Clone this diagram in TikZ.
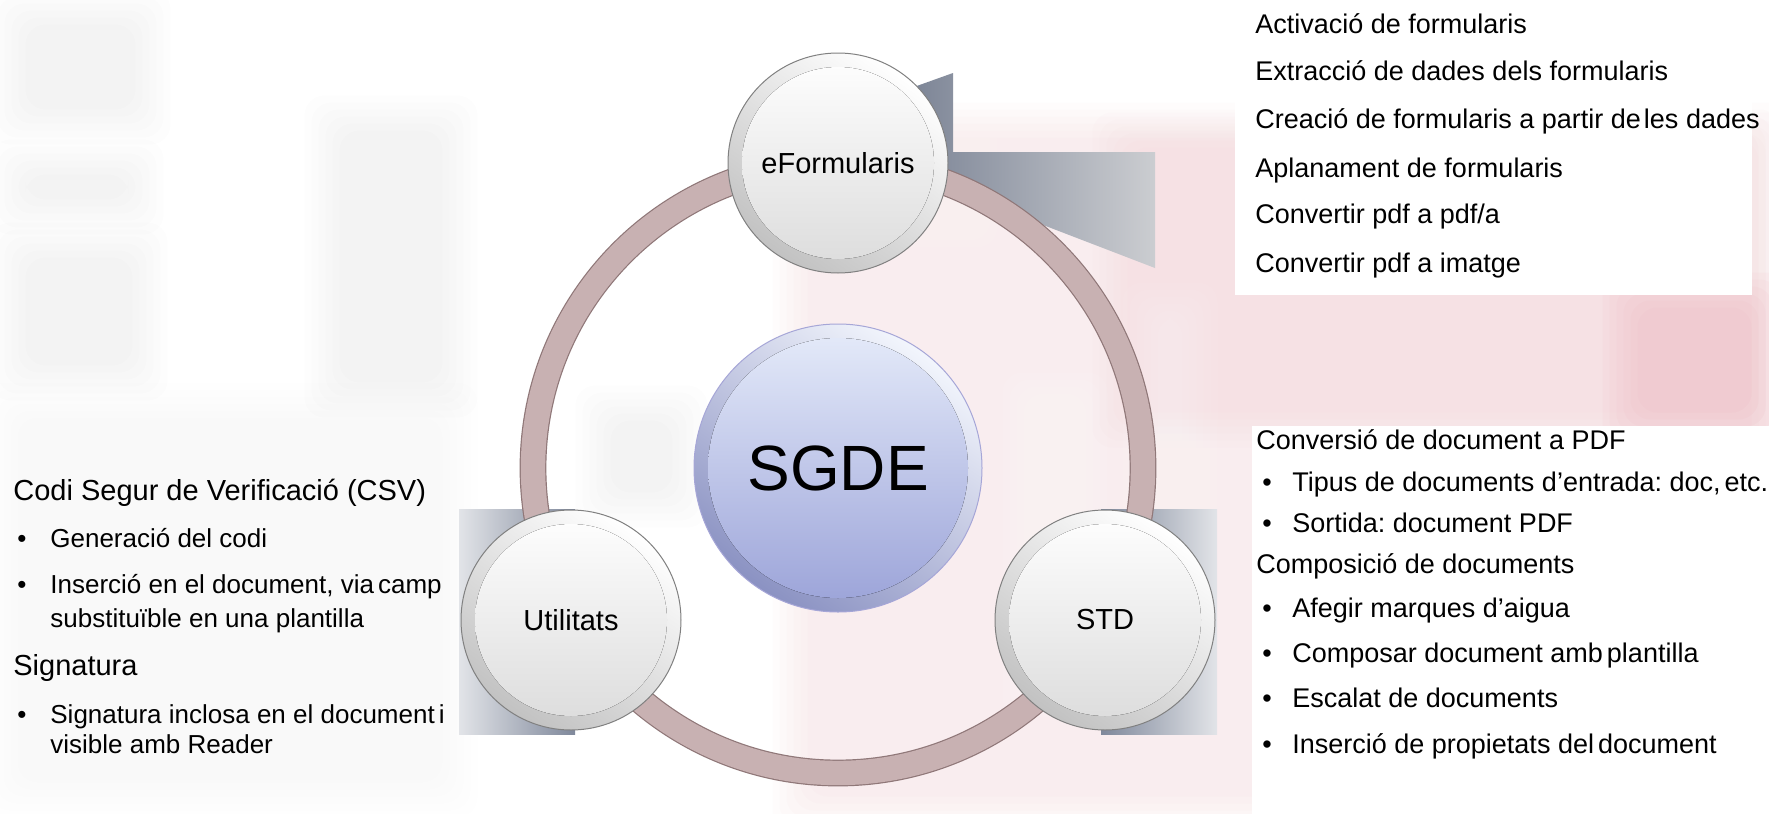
\documentclass[tikz,border=0pt]{standalone}
\usepackage{fontspec}
\setmainfont{Liberation Sans}
\definecolor{ringc}{HTML}{C8B1B2}
\definecolor{ringd}{HTML}{8F7778}
\definecolor{calldark}{HTML}{7F889B}
\definecolor{calllight}{HTML}{E2E4E8}
\definecolor{pinkw}{HTML}{F6CCD2}
\definecolor{pinks}{HTML}{EFB3BD}
\definecolor{sgdetop}{HTML}{E6ECFA}
\definecolor{sgdemid}{HTML}{CBD4F3}
\definecolor{sgdebot}{HTML}{9AA2D8}
% soft-edged rectangle made of nested translucent layers
\newcommand\softfill[6]{%
  \foreach \i in {0,...,5}{%
    \fill[#1,opacity=#6,rounded corners=10pt]
      ({#2+(\i-2.5)*7},{#3+(\i-2.5)*7}) rectangle ({#4-(\i-2.5)*7},{#5-(\i-2.5)*7});}}
\tikzset{
  ball/.style={circle, minimum size=110pt, inner sep=0pt, draw=black!50, line width=0.5pt,
    top color=white, bottom color=black!24, shading angle=-35,
    path picture={\fill[top color=white, bottom color=black!14]
      (path picture bounding box.center) circle[radius=48pt];},
    font=\fontsize{14.5}{17}\selectfont},
  hub/.style={circle, minimum size=144pt, inner sep=0pt, draw=black!45!blue!35, line width=0.5pt,
    top color=sgdetop!50!white, bottom color=sgdebot!90!black, shading angle=-35,
    path picture={\fill[top color=sgdetop, middle color=sgdemid, bottom color=sgdebot]
      (path picture bounding box.center) circle[radius=65pt];},
    font=\fontsize{32}{36}\selectfont},
  rtxt/.style={anchor=base west, inner sep=0pt, font=\frenchspacing\fontsize{13.5}{16}\selectfont},
  lhead/.style={anchor=base west, inner sep=0pt, font=\frenchspacing\fontsize{14.5}{17}\selectfont},
  ltxt/.style={anchor=base west, inner sep=0pt, font=\frenchspacing\fontsize{13}{16}\selectfont},
  textbox/.style={fill=white, draw=none},
  callout/.style={draw=none}
}
\begin{document}
\begin{tikzpicture}[x=0.5pt,y=-0.5pt]
\useasboundingbox (0,0) rectangle (1769,814);
\fill[white] (0,0) rectangle (1769,814);
% grey watermark (left)
\softfill{black}{8}{7}{153}{127}{0.007}
\softfill{black}{8}{157}{146}{217}{0.007}
\softfill{black}{8}{240}{150}{383}{0.007}
\softfill{black}{322}{113}{460}{400}{0.007}
\softfill{black}{0}{400}{460}{800}{0.005}
\softfill{black}{593}{403}{690}{510}{0.006}
% pink watermark (right)
\softfill{pinkw}{790}{120}{1769}{814}{0.06}
\softfill{pinkw}{1110}{130}{1769}{430}{0.05}
\softfill{pinks}{1620}{290}{1769}{430}{0.09}
\softfill{white}{1020}{390}{1090}{700}{0.07}
\softfill{white}{1140}{300}{1200}{520}{0.06}
\softfill{white}{790}{120}{980}{230}{0.06}
% white text boxes
\fill[textbox] (1235,0) rectangle (1752,295);
\fill[textbox] (1252,426) rectangle (1769,814);
% callouts
\shade[callout, left color=calllight, right color=calldark] (459,509) rectangle (575,734);
\shade[callout, left color=calldark, right color=calllight] (1101,509) rectangle (1217,734);
\shade[callout, left color=calldark!95!black, right color=calllight!90!black]
  (900,92) -- (953,73) -- (953,152) -- (1155,152) -- (1155,268) -- (900,170) -- cycle;
% ring
\coordinate (hubc) at (838,468);
\draw[ringd, line width=13.4pt] (hubc) circle[radius=305];
\draw[ringc, line width=12.2pt] (hubc) circle[radius=305];
% circles
\node[hub] (sgde) at (hubc) {SGDE};
\node[ball] (ef) at (838,163) {eFormularis};
\node[ball] (ut) at (571,620) {Utilitats};
\node[ball] (std) at (1105,620) {STD};
% top-right text
\node[rtxt] (a1) at (1255,33) {Activació de formularis};
\node[rtxt] (a2) at (1255,80) {Extracció de dades dels formularis};
\node[rtxt] (a3) at (1255,128) {Creació de formularis a partir de\hspace{1.5pt}les dades};
\node[rtxt] (a4) at (1255,177) {Aplanament de formularis};
\node[rtxt] (a5) at (1255,223) {Convertir pdf a pdf/a};
\node[rtxt] (a6) at (1255,272) {Convertir pdf a imatge};
% bottom-right text
\node[rtxt] (b1) at (1256,449) {Conversió de document a PDF};
\node[rtxt] (b2b) at (1262,491) {•};
\node[rtxt] (b2) at (1292,491) {Tipus de documents d’entrada: doc,\hspace{2pt}etc.};
\node[rtxt] (b3b) at (1262,532) {•};
\node[rtxt] (b3) at (1292,532) {Sortida: document PDF};
\node[rtxt] (b4) at (1256,573) {Composició de documents};
\node[rtxt] (b5b) at (1262,617) {•};
\node[rtxt] (b5) at (1292,617) {Afegir marques d’aigua};
\node[rtxt] (b6b) at (1262,662) {•};
\node[rtxt] (b6) at (1292,662) {Composar document amb\hspace{2pt}plantilla};
\node[rtxt] (b7b) at (1262,707) {•};
\node[rtxt] (b7) at (1292,707) {Escalat de documents};
\node[rtxt] (b8b) at (1262,753) {•};
\node[rtxt] (b8) at (1292,753) {Inserció de propietats del\hspace{2pt}document};
% left text
\node[lhead] (c1) at (13,500) {Codi Segur de Verificació (CSV)};
\node[ltxt] (c2b) at (17,547) {•};
\node[ltxt] (c2) at (50,547) {Generació del codi};
\node[ltxt] (c3b) at (17,593) {•};
\node[ltxt] (c3) at (50,593) {Inserció en el document, via\hspace{2pt}camp};
\node[ltxt] (c4) at (50,627) {substituïble en una plantilla};
\node[lhead] (c5) at (13,675) {Signatura};
\node[ltxt] (c6b) at (17,723) {•};
\node[ltxt] (c6) at (50,723) {Signatura inclosa en el document\hspace{2pt}i};
\node[ltxt] (c7) at (50,753) {visible amb Reader};
\end{tikzpicture}
\end{document}
